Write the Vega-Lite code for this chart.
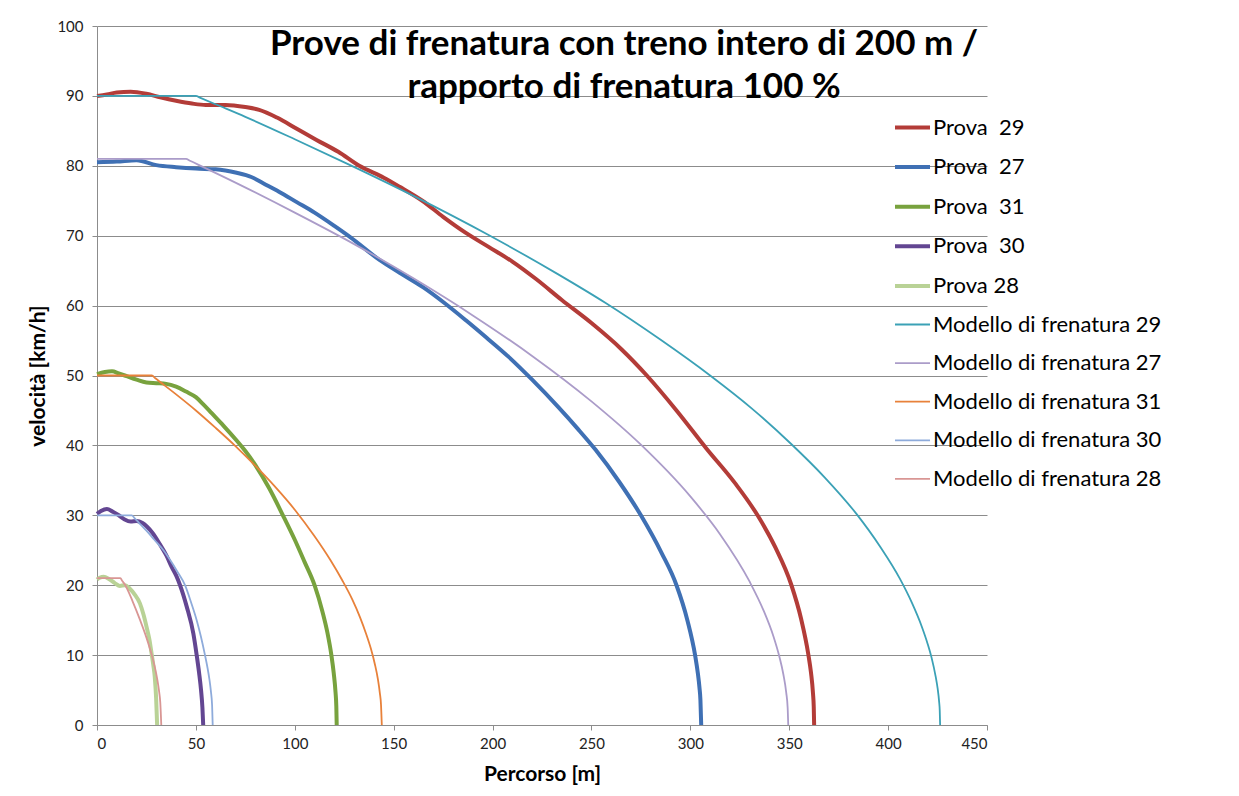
{
"$schema": "https://vega.github.io/schema/vega-lite/v6.json",
"width": 890, "height": 699,
"autosize": {"type": "none"},
"padding": {"left": 97, "top": 26, "right": 252, "bottom": 71},
"background": "white",
"config": {"view": {"stroke": null}, "font": "Lato"},
"title": {"text": ["Prove di frenatura con treno intero di 200 m /", "rapporto di frenatura 100 %"], "font": "Lato", "fontSize": 35, "fontWeight": "bold", "color": "black", "anchor": "middle", "frame": "group", "dx": 82, "offset": -86, "baseline": "top", "lineHeight": 43},
"datasets": {
"curve": [
{"serie":"Prova\u00a0 29","percorso":0,"velocita":90},{"serie":"Prova\u00a0 29","percorso":5,"velocita":90.2},{"serie":"Prova\u00a0 29","percorso":10,"velocita":90.5},{"serie":"Prova\u00a0 29","percorso":17,"velocita":90.6},{"serie":"Prova\u00a0 29","percorso":25,"velocita":90.3},{"serie":"Prova\u00a0 29","percorso":32,"velocita":89.8},{"serie":"Prova\u00a0 29","percorso":40,"velocita":89.3},{"serie":"Prova\u00a0 29","percorso":48,"velocita":88.9},{"serie":"Prova\u00a0 29","percorso":55,"velocita":88.7},{"serie":"Prova\u00a0 29","percorso":65,"velocita":88.7},{"serie":"Prova\u00a0 29","percorso":75,"velocita":88.4},{"serie":"Prova\u00a0 29","percorso":82,"velocita":88.0},{"serie":"Prova\u00a0 29","percorso":91,"velocita":86.9},{"serie":"Prova\u00a0 29","percorso":101,"velocita":85.3},{"serie":"Prova\u00a0 29","percorso":111,"velocita":83.7},{"serie":"Prova\u00a0 29","percorso":122,"velocita":82},{"serie":"Prova\u00a0 29","percorso":132.6,"velocita":80},{"serie":"Prova\u00a0 29","percorso":145,"velocita":78.3},{"serie":"Prova\u00a0 29","percorso":153,"velocita":77},{"serie":"Prova\u00a0 29","percorso":164.5,"velocita":75},{"serie":"Prova\u00a0 29","percorso":175,"velocita":72.7},{"serie":"Prova\u00a0 29","percorso":186.5,"velocita":70.4},{"serie":"Prova\u00a0 29","percorso":198,"velocita":68.4},{"serie":"Prova\u00a0 29","percorso":210,"velocita":66.3},{"serie":"Prova\u00a0 29","percorso":222,"velocita":63.8},{"serie":"Prova\u00a0 29","percorso":235,"velocita":60.8},{"serie":"Prova\u00a0 29","percorso":250,"velocita":57.5},{"serie":"Prova\u00a0 29","percorso":265,"velocita":53.8},{"serie":"Prova\u00a0 29","percorso":278,"velocita":50},{"serie":"Prova\u00a0 29","percorso":293,"velocita":45},{"serie":"Prova\u00a0 29","percorso":308,"velocita":39.6},{"serie":"Prova\u00a0 29","percorso":322.6,"velocita":34.6},{"serie":"Prova\u00a0 29","percorso":334,"velocita":30},{"serie":"Prova\u00a0 29","percorso":343,"velocita":25.4},{"serie":"Prova\u00a0 29","percorso":351,"velocita":20.1},{"serie":"Prova\u00a0 29","percorso":356,"velocita":15.2},{"serie":"Prova\u00a0 29","percorso":359.6,"velocita":10.2},{"serie":"Prova\u00a0 29","percorso":361,"velocita":7.5},{"serie":"Prova\u00a0 29","percorso":362,"velocita":4.6},{"serie":"Prova\u00a0 29","percorso":362.4,"velocita":2.6},{"serie":"Prova\u00a0 29","percorso":362.6,"velocita":0},
{"serie":"Prova\u00a0 27","percorso":0,"velocita":80.5},{"serie":"Prova\u00a0 27","percorso":10,"velocita":80.6},{"serie":"Prova\u00a0 27","percorso":20,"velocita":80.8},{"serie":"Prova\u00a0 27","percorso":30,"velocita":80.1},{"serie":"Prova\u00a0 27","percorso":40,"velocita":79.8},{"serie":"Prova\u00a0 27","percorso":50,"velocita":79.6},{"serie":"Prova\u00a0 27","percorso":60,"velocita":79.5},{"serie":"Prova\u00a0 27","percorso":70.6,"velocita":79},{"serie":"Prova\u00a0 27","percorso":78,"velocita":78.4},{"serie":"Prova\u00a0 27","percorso":84,"velocita":77.5},{"serie":"Prova\u00a0 27","percorso":92,"velocita":76.3},{"serie":"Prova\u00a0 27","percorso":101,"velocita":74.8},{"serie":"Prova\u00a0 27","percorso":110,"velocita":73.3},{"serie":"Prova\u00a0 27","percorso":120,"velocita":71.4},{"serie":"Prova\u00a0 27","percorso":128,"velocita":69.8},{"serie":"Prova\u00a0 27","percorso":143,"velocita":66.5},{"serie":"Prova\u00a0 27","percorso":153,"velocita":64.7},{"serie":"Prova\u00a0 27","percorso":165,"velocita":62.6},{"serie":"Prova\u00a0 27","percorso":176,"velocita":60.3},{"serie":"Prova\u00a0 27","percorso":186.5,"velocita":57.9},{"serie":"Prova\u00a0 27","percorso":197,"velocita":55.4},{"serie":"Prova\u00a0 27","percorso":208,"velocita":52.7},{"serie":"Prova\u00a0 27","percorso":220,"velocita":49.4},{"serie":"Prova\u00a0 27","percorso":233.5,"velocita":45.4},{"serie":"Prova\u00a0 27","percorso":243,"velocita":42.4},{"serie":"Prova\u00a0 27","percorso":252,"velocita":39.4},{"serie":"Prova\u00a0 27","percorso":264,"velocita":34.8},{"serie":"Prova\u00a0 27","percorso":275,"velocita":30},{"serie":"Prova\u00a0 27","percorso":285.5,"velocita":24.6},{"serie":"Prova\u00a0 27","percorso":293,"velocita":20},{"serie":"Prova\u00a0 27","percorso":298.5,"velocita":15},{"serie":"Prova\u00a0 27","percorso":302.4,"velocita":10},{"serie":"Prova\u00a0 27","percorso":303.8,"velocita":7.4},{"serie":"Prova\u00a0 27","percorso":304.6,"velocita":5.4},{"serie":"Prova\u00a0 27","percorso":305.1,"velocita":3.6},{"serie":"Prova\u00a0 27","percorso":305.5,"velocita":0},
{"serie":"Prova\u00a0 31","percorso":0,"velocita":50.2},{"serie":"Prova\u00a0 31","percorso":4,"velocita":50.5},{"serie":"Prova\u00a0 31","percorso":7.6,"velocita":50.6},{"serie":"Prova\u00a0 31","percorso":11,"velocita":50.3},{"serie":"Prova\u00a0 31","percorso":15,"velocita":49.9},{"serie":"Prova\u00a0 31","percorso":20,"velocita":49.4},{"serie":"Prova\u00a0 31","percorso":25,"velocita":49},{"serie":"Prova\u00a0 31","percorso":30,"velocita":48.9},{"serie":"Prova\u00a0 31","percorso":35,"velocita":48.8},{"serie":"Prova\u00a0 31","percorso":40,"velocita":48.4},{"serie":"Prova\u00a0 31","percorso":45,"velocita":47.7},{"serie":"Prova\u00a0 31","percorso":50,"velocita":46.9},{"serie":"Prova\u00a0 31","percorso":54,"velocita":45.8},{"serie":"Prova\u00a0 31","percorso":58,"velocita":44.6},{"serie":"Prova\u00a0 31","percorso":64,"velocita":42.8},{"serie":"Prova\u00a0 31","percorso":70.6,"velocita":40.7},{"serie":"Prova\u00a0 31","percorso":75,"velocita":39.2},{"serie":"Prova\u00a0 31","percorso":80,"velocita":37.2},{"serie":"Prova\u00a0 31","percorso":87,"velocita":33.9},{"serie":"Prova\u00a0 31","percorso":94,"velocita":30},{"serie":"Prova\u00a0 31","percorso":100,"velocita":26.5},{"serie":"Prova\u00a0 31","percorso":105,"velocita":23.3},{"serie":"Prova\u00a0 31","percorso":110,"velocita":20},{"serie":"Prova\u00a0 31","percorso":114,"velocita":16.2},{"serie":"Prova\u00a0 31","percorso":116.5,"velocita":13.2},{"serie":"Prova\u00a0 31","percorso":118.5,"velocita":10},{"serie":"Prova\u00a0 31","percorso":119.7,"velocita":7.4},{"serie":"Prova\u00a0 31","percorso":120.6,"velocita":4.7},{"serie":"Prova\u00a0 31","percorso":121,"velocita":2.7},{"serie":"Prova\u00a0 31","percorso":121.2,"velocita":0},
{"serie":"Prova\u00a0 30","percorso":0,"velocita":30.2},{"serie":"Prova\u00a0 30","percorso":2,"velocita":30.6},{"serie":"Prova\u00a0 30","percorso":5,"velocita":30.9},{"serie":"Prova\u00a0 30","percorso":8,"velocita":30.5},{"serie":"Prova\u00a0 30","percorso":11,"velocita":30},{"serie":"Prova\u00a0 30","percorso":14,"velocita":29.4},{"serie":"Prova\u00a0 30","percorso":17,"velocita":29.1},{"serie":"Prova\u00a0 30","percorso":20,"velocita":29.2},{"serie":"Prova\u00a0 30","percorso":23,"velocita":28.9},{"serie":"Prova\u00a0 30","percorso":25.2,"velocita":28.4},{"serie":"Prova\u00a0 30","percorso":28,"velocita":27.5},{"serie":"Prova\u00a0 30","percorso":31.9,"velocita":25.8},{"serie":"Prova\u00a0 30","percorso":35,"velocita":24.3},{"serie":"Prova\u00a0 30","percorso":37.8,"velocita":22.6},{"serie":"Prova\u00a0 30","percorso":40,"velocita":21.4},{"serie":"Prova\u00a0 30","percorso":42,"velocita":20},{"serie":"Prova\u00a0 30","percorso":45.4,"velocita":16.9},{"serie":"Prova\u00a0 30","percorso":48.7,"velocita":13.1},{"serie":"Prova\u00a0 30","percorso":50.4,"velocita":10},{"serie":"Prova\u00a0 30","percorso":51.6,"velocita":7.5},{"serie":"Prova\u00a0 30","percorso":52.6,"velocita":5},{"serie":"Prova\u00a0 30","percorso":53.3,"velocita":2.5},{"serie":"Prova\u00a0 30","percorso":53.7,"velocita":0},
{"serie":"Prova 28","percorso":0,"velocita":20.8},{"serie":"Prova 28","percorso":1.5,"velocita":21.1},{"serie":"Prova 28","percorso":3.4,"velocita":21.2},{"serie":"Prova 28","percorso":6,"velocita":20.9},{"serie":"Prova 28","percorso":9,"velocita":20.3},{"serie":"Prova 28","percorso":11.6,"velocita":19.9},{"serie":"Prova 28","percorso":14,"velocita":20},{"serie":"Prova 28","percorso":16.6,"velocita":19.5},{"serie":"Prova 28","percorso":19,"velocita":18.7},{"serie":"Prova 28","percorso":21.7,"velocita":17.4},{"serie":"Prova 28","percorso":23.5,"velocita":15.8},{"serie":"Prova 28","percorso":25,"velocita":14.1},{"serie":"Prova 28","percorso":26.5,"velocita":12.2},{"serie":"Prova 28","percorso":27.4,"velocita":10.6},{"serie":"Prova 28","percorso":28.5,"velocita":8.5},{"serie":"Prova 28","percorso":29.2,"velocita":6.9},{"serie":"Prova 28","percorso":29.9,"velocita":3.8},{"serie":"Prova 28","percorso":30.4,"velocita":0},
{"serie":"Modello di frenatura 29","percorso":0,"velocita":90},{"serie":"Modello di frenatura 29","percorso":50,"velocita":90},{"serie":"Modello di frenatura 29","percorso":52,"velocita":89.76},{"serie":"Modello di frenatura 29","percorso":60,"velocita":88.8},{"serie":"Modello di frenatura 29","percorso":75,"velocita":87.0},{"serie":"Modello di frenatura 29","percorso":100,"velocita":83.8},{"serie":"Modello di frenatura 29","percorso":128,"velocita":80.1},{"serie":"Modello di frenatura 29","percorso":160,"velocita":75.7},{"serie":"Modello di frenatura 29","percorso":198,"velocita":70.1},{"serie":"Modello di frenatura 29","percorso":233,"velocita":64.5},{"serie":"Modello di frenatura 29","percorso":257,"velocita":60.4},{"serie":"Modello di frenatura 29","percorso":285,"velocita":55.1},{"serie":"Modello di frenatura 29","percorso":310,"velocita":50},{"serie":"Modello di frenatura 29","percorso":331,"velocita":45.3},{"serie":"Modello di frenatura 29","percorso":351,"velocita":40.2},{"serie":"Modello di frenatura 29","percorso":368,"velocita":35.4},{"serie":"Modello di frenatura 29","percorso":384,"velocita":30.2},{"serie":"Modello di frenatura 29","percorso":396,"velocita":25.5},{"serie":"Modello di frenatura 29","percorso":406,"velocita":20.9},{"serie":"Modello di frenatura 29","percorso":412,"velocita":17.5},{"serie":"Modello di frenatura 29","percorso":417,"velocita":14.1},{"serie":"Modello di frenatura 29","percorso":420,"velocita":11.6},{"serie":"Modello di frenatura 29","percorso":422,"velocita":9.6},{"serie":"Modello di frenatura 29","percorso":424,"velocita":7.0},{"serie":"Modello di frenatura 29","percorso":425,"velocita":5.3},{"serie":"Modello di frenatura 29","percorso":425.8,"velocita":3.3},{"serie":"Modello di frenatura 29","percorso":426.1,"velocita":2.1},{"serie":"Modello di frenatura 29","percorso":426.3,"velocita":0},
{"serie":"Modello di frenatura 27","percorso":0,"velocita":81},{"serie":"Modello di frenatura 27","percorso":45,"velocita":81},{"serie":"Modello di frenatura 27","percorso":47,"velocita":80.73},{"serie":"Modello di frenatura 27","percorso":70,"velocita":77.6},{"serie":"Modello di frenatura 27","percorso":100,"velocita":73.3},{"serie":"Modello di frenatura 27","percorso":130,"velocita":68.8},{"serie":"Modello di frenatura 27","percorso":160,"velocita":63.9},{"serie":"Modello di frenatura 27","percorso":190,"velocita":58.6},{"serie":"Modello di frenatura 27","percorso":220,"velocita":52.8},{"serie":"Modello di frenatura 27","percorso":250,"velocita":46.3},{"serie":"Modello di frenatura 27","percorso":275,"velocita":40.1},{"serie":"Modello di frenatura 27","percorso":300,"velocita":32.7},{"serie":"Modello di frenatura 27","percorso":315,"velocita":27.3},{"serie":"Modello di frenatura 27","percorso":330,"velocita":20.5},{"serie":"Modello di frenatura 27","percorso":337,"velocita":16.4},{"serie":"Modello di frenatura 27","percorso":342,"velocita":12.7},{"serie":"Modello di frenatura 27","percorso":345,"velocita":9.8},{"serie":"Modello di frenatura 27","percorso":347,"velocita":7.3},{"serie":"Modello di frenatura 27","percorso":348.5,"velocita":4.6},{"serie":"Modello di frenatura 27","percorso":349.2,"velocita":2.5},{"serie":"Modello di frenatura 27","percorso":349.5,"velocita":0},
{"serie":"Modello di frenatura 31","percorso":0,"velocita":50},{"serie":"Modello di frenatura 31","percorso":27.7,"velocita":50},{"serie":"Modello di frenatura 31","percorso":29.5,"velocita":49.6},{"serie":"Modello di frenatura 31","percorso":40,"velocita":47.3},{"serie":"Modello di frenatura 31","percorso":50,"velocita":45},{"serie":"Modello di frenatura 31","percorso":60,"velocita":42.5},{"serie":"Modello di frenatura 31","percorso":70,"velocita":39.9},{"serie":"Modello di frenatura 31","percorso":80,"velocita":37.1},{"serie":"Modello di frenatura 31","percorso":90,"velocita":34.1},{"serie":"Modello di frenatura 31","percorso":100,"velocita":30.8},{"serie":"Modello di frenatura 31","percorso":110,"velocita":27},{"serie":"Modello di frenatura 31","percorso":118,"velocita":23.6},{"serie":"Modello di frenatura 31","percorso":124,"velocita":20.7},{"serie":"Modello di frenatura 31","percorso":129,"velocita":18},{"serie":"Modello di frenatura 31","percorso":133,"velocita":15.4},{"serie":"Modello di frenatura 31","percorso":136,"velocita":13.1},{"serie":"Modello di frenatura 31","percorso":138.5,"velocita":10.9},{"serie":"Modello di frenatura 31","percorso":140.5,"velocita":8.7},{"serie":"Modello di frenatura 31","percorso":142,"velocita":6.6},{"serie":"Modello di frenatura 31","percorso":143,"velocita":4.6},{"serie":"Modello di frenatura 31","percorso":143.6,"velocita":2.9},{"serie":"Modello di frenatura 31","percorso":144,"velocita":0},
{"serie":"Modello di frenatura 30","percorso":0,"velocita":30},{"serie":"Modello di frenatura 30","percorso":17.6,"velocita":30},{"serie":"Modello di frenatura 30","percorso":19,"velocita":29.6},{"serie":"Modello di frenatura 30","percorso":21,"velocita":29},{"serie":"Modello di frenatura 30","percorso":25,"velocita":27.8},{"serie":"Modello di frenatura 30","percorso":29,"velocita":26.5},{"serie":"Modello di frenatura 30","percorso":33.6,"velocita":25},{"serie":"Modello di frenatura 30","percorso":37,"velocita":23.6},{"serie":"Modello di frenatura 30","percorso":40.5,"velocita":22},{"serie":"Modello di frenatura 30","percorso":44.5,"velocita":20},{"serie":"Modello di frenatura 30","percorso":47.5,"velocita":17.6},{"serie":"Modello di frenatura 30","percorso":50.4,"velocita":15},{"serie":"Modello di frenatura 30","percorso":52.5,"velocita":12.7},{"serie":"Modello di frenatura 30","percorso":54.6,"velocita":10},{"serie":"Modello di frenatura 30","percorso":55.8,"velocita":8.3},{"serie":"Modello di frenatura 30","percorso":56.8,"velocita":6.6},{"serie":"Modello di frenatura 30","percorso":57.6,"velocita":4.8},{"serie":"Modello di frenatura 30","percorso":58.2,"velocita":2.8},{"serie":"Modello di frenatura 30","percorso":58.5,"velocita":0},
{"serie":"Modello di frenatura 28","percorso":0,"velocita":21},{"serie":"Modello di frenatura 28","percorso":11.8,"velocita":21},{"serie":"Modello di frenatura 28","percorso":12.8,"velocita":20.6},{"serie":"Modello di frenatura 28","percorso":14.3,"velocita":20},{"serie":"Modello di frenatura 28","percorso":18,"velocita":17.7},{"serie":"Modello di frenatura 28","percorso":21.8,"velocita":15},{"serie":"Modello di frenatura 28","percorso":25,"velocita":12.5},{"serie":"Modello di frenatura 28","percorso":27.7,"velocita":10},{"serie":"Modello di frenatura 28","percorso":29.3,"velocita":8.2},{"serie":"Modello di frenatura 28","percorso":30.5,"velocita":6.5},{"serie":"Modello di frenatura 28","percorso":31.4,"velocita":4.8},{"serie":"Modello di frenatura 28","percorso":32,"velocita":3.2},{"serie":"Modello di frenatura 28","percorso":32.5,"velocita":0}
]},
"data": {"name": "curve"},
"mark": {"type": "line", "interpolate": "monotone", "strokeCap": "butt", "strokeJoin": "round"},
"encoding": {
"x": {"field": "percorso", "type": "quantitative", "scale": {"domain": [0, 450], "nice": false},
  "axis": {"values": [0,50,100,150,200,250,300,350,400,450], "grid": false, "title": "Percorso [m]", "domainColor": "#8c8c8c", "tickColor": "#8c8c8c", "tickSize": 5, "labelFont": "Lato", "labelFontSize": 15, "labelColor": "#222", "labelPadding": 6, "titleFont": "Lato", "titleFontSize": 21, "titleFontWeight": "bold", "titleColor": "black", "titlePadding": 12}},
"y": {"field": "velocita", "type": "quantitative", "scale": {"domain": [0, 100], "nice": false},
  "axis": {"values": [0,10,20,30,40,50,60,70,80,90,100], "grid": true, "gridColor": "#8c8c8c", "title": "velocità [km/h]", "domainColor": "#8c8c8c", "tickColor": "#8c8c8c", "tickSize": 5, "labelFont": "Lato", "labelFontSize": 15, "labelColor": "#222", "labelPadding": 9, "titleFont": "Lato", "titleFontSize": 21, "titleFontWeight": "bold", "titleColor": "black", "titlePadding": 8}},
"color": {"field": "serie", "type": "nominal",
  "scale": {"domain": ["Prova\u00a0 29","Prova\u00a0 27","Prova\u00a0 31","Prova\u00a0 30","Prova 28","Modello di frenatura 29","Modello di frenatura 27","Modello di frenatura 31","Modello di frenatura 30","Modello di frenatura 28"],
   "range": ["#b33c38","#3f70b4","#78a23e","#634692","#b9d296","#3ba1b6","#ab9cc9","#e8813a","#8eabdb","#d99694"]},
  "legend": {"orient": "none", "legendX": 796, "legendY": 82, "title": null, "labelFont": "Lato", "labelFontSize": 22, "labelColor": "black", "labelLimit": 400, "symbolType": "stroke", "symbolSize": 1225, "labelOffset": 1, "rowPadding": 8.6}},
"strokeWidth": {"field": "serie", "type": "nominal",
  "scale": {"type": "ordinal", "domain": ["Prova\u00a0 29","Prova\u00a0 27","Prova\u00a0 31","Prova\u00a0 30","Prova 28","Modello di frenatura 29","Modello di frenatura 27","Modello di frenatura 31","Modello di frenatura 30","Modello di frenatura 28"],
   "range": [4,4,4,4,4,1.8,1.8,1.8,1.8,1.8]}}
}
}
